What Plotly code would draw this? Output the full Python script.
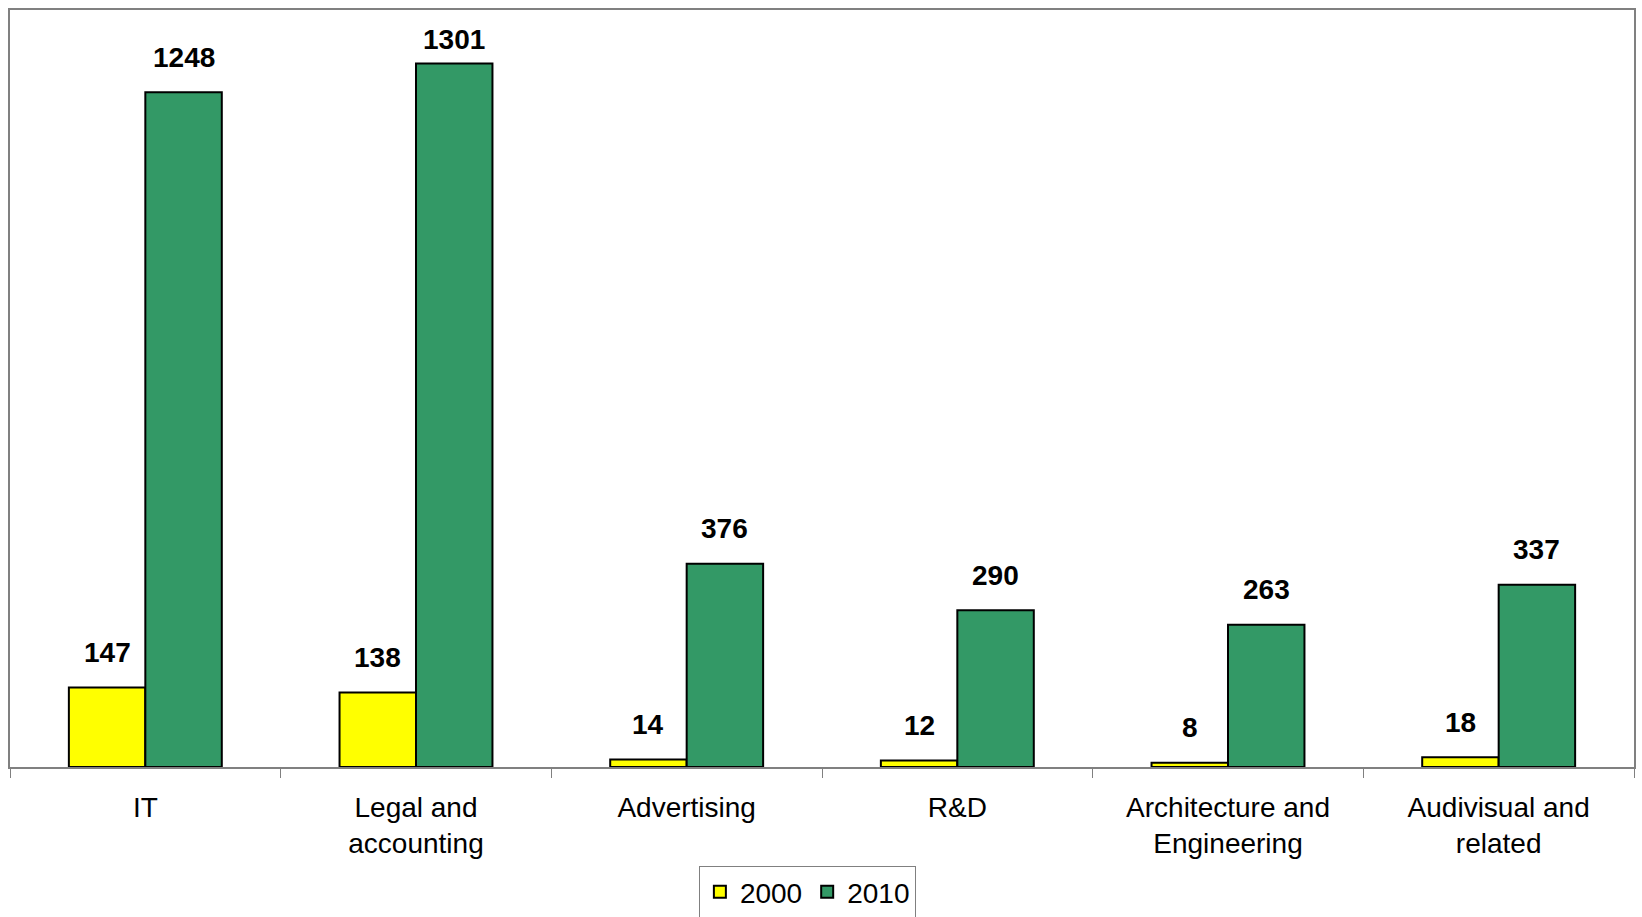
import plotly.graph_objects as go

categories = ["IT", "Legal and<br>accounting", "Advertising", "R&D",
              "Architecture and<br>Engineering", "Audivisual and<br>related"]
series_names = ["2000", "2010"]
values_2000 = [147, 138, 14, 12, 8, 18]
values_2010 = [1248, 1301, 376, 290, 263, 337]

colors = ["#FFFF00", "#339966"]
FONT = "Liberation Sans, Arial, sans-serif"

fig = go.Figure()
for name, vals, col in zip(series_names, [values_2000, values_2010], colors):
    fig.add_trace(go.Bar(
        x=categories, y=vals, name=name,
        marker=dict(color=col, line=dict(color="black", width=2)),
    ))

# data labels
YMAX = 1400
bar_px = 1624 / 6 * (1 - 0.435) / 2
for i, vals in enumerate([values_2000, values_2010]):
    sign = -1 if i == 0 else 1
    for c, v in zip(categories, vals):
        ylab = min(v + 65, 1345)
        fig.add_annotation(
            x=c, y=ylab, xref="x", yref="y", text="<b>%d</b>" % v,
            showarrow=False, xshift=sign * bar_px / 2, yanchor="middle",
            font=dict(family=FONT, size=28, color="black"),
        )

fig.update_layout(
    width=1642, height=917,
    margin=dict(l=10, r=8, t=10, b=150, autoexpand=False),
    paper_bgcolor="white", plot_bgcolor="white",
    barmode="group", bargap=0.435, bargroupgap=0,
    font=dict(family=FONT, size=28, color="black"),
    showlegend=True,
    legend=dict(orientation="h", x=0.491, xanchor="center", y=-0.1308, yanchor="top",
                bordercolor="#808080", borderwidth=1,
                font=dict(family=FONT, size=28, color="black"),
                itemwidth=30, traceorder="normal"),
    xaxis=dict(showline=True, linecolor="#808080", linewidth=2, mirror=True,
               ticks="outside", tickson="boundaries", ticklen=9, tickcolor="#808080",
               tickwidth=1, showgrid=False, ticklabelstandoff=14,
               tickfont=dict(family=FONT, size=28, color="black")),
    yaxis=dict(range=[0, YMAX], showline=True, linecolor="#808080", linewidth=2,
               mirror=True, showgrid=False, showticklabels=False, ticks="",
               zeroline=False),
)

fig.write_html("out.html", config={"displayModeBar": False},
               post_script="document.body.style.margin='0px';")
